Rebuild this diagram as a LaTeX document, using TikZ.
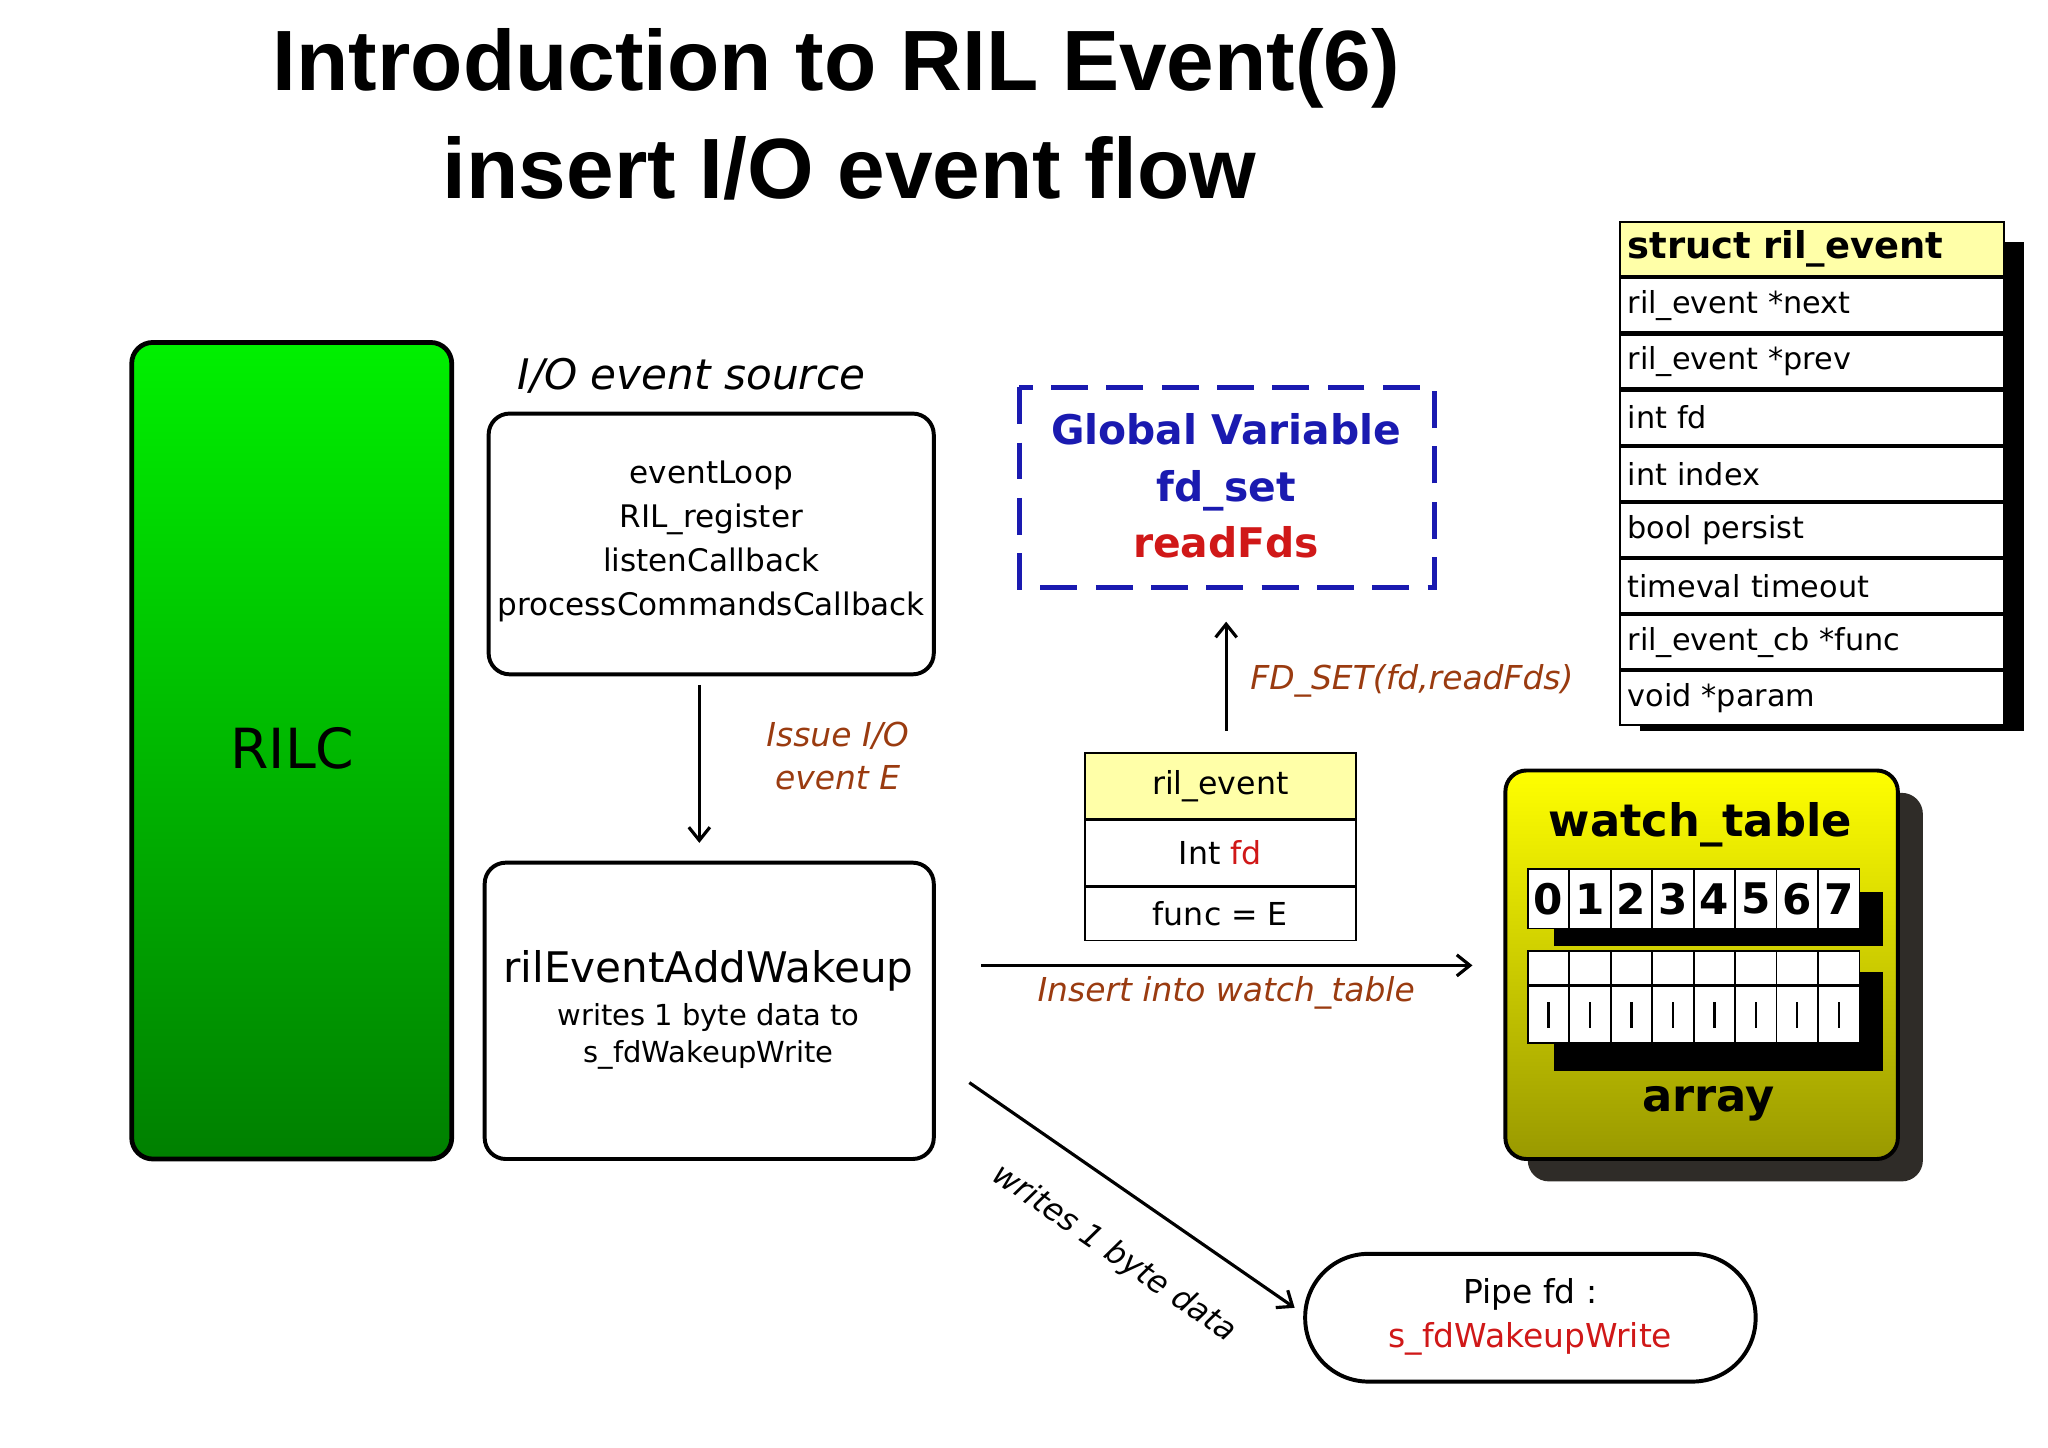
\documentclass[tikz,border=0pt]{standalone}
\usepackage{fontspec}
\setmainfont{DejaVu Sans}
\newfontfamily\titlef{Liberation Sans}
\usetikzlibrary{arrows.meta,shadows}
\definecolor{brn}{HTML}{9A3B10}
\definecolor{gblue}{HTML}{1A1AB0}
\definecolor{gred}{HTML}{D01818}
\definecolor{lyel}{HTML}{FFFFA8}
\tikzset{
  box/.style={draw=black,line width=1.5pt,rounded corners=8pt,fill=white},
  arr/.style={-{Straight Barb[length=5pt,width=8pt]},line width=1.2pt},
  lbl/.style={font=\fontsize{12.5}{15}\selectfont\itshape,text=brn},
  cell/.style={draw=black,line width=0.6pt,fill=white,minimum width=15.75pt,minimum height=22.5pt,inner sep=0pt,font=\fontsize{16}{16}\selectfont\bfseries},
  cellb/.style={draw=black,line width=0.6pt,fill=white,minimum width=15.75pt,minimum height=13pt,inner sep=0pt},
  srow/.style={draw=black,line width=0.8pt,fill=white,minimum height=20.5pt,inner sep=3pt,anchor=north west,text width=140pt,font=\fontsize{11.5}{13}\selectfont},
  rrow/.style={draw=black,line width=0.6pt,fill=white,minimum width=103pt,inner sep=0pt,anchor=north west,font=\fontsize{12}{14}\selectfont}
}
\begin{document}
\begin{tikzpicture}[x=0.5pt,y=-0.5pt]
\useasboundingbox (0,0) rectangle (1555,1099);
\fill[white] (0,0) rectangle (1555,1099);
% title
\node[font=\titlef\fontsize{32.5}{36}\selectfont\bfseries] (t1) at (635,52) {Introduction to RIL Event(6)};
\node[font=\titlef\fontsize{32.5}{36}\selectfont\bfseries] (t2) at (645,128) {insert I/O event flow};
% RILC
\draw[line width=1.8pt,rounded corners=8pt,top color=green!90!black!60!green,bottom color=green!50!black] (100,260) rectangle (343,880);
\node[font=\fontsize{21}{24}\selectfont] (rilc) at (222,568) {RILC};
% source
\node[font=\fontsize{16}{18}\selectfont\itshape] (srclbl) at (525,285) {I/O event source};
\draw[box] (371,314) rectangle (709,512);
\node[align=center,font=\fontsize{11.8}{16.7}\selectfont] (src) at (540,411) {eventLoop\\RIL\_register\\listenCallback\\processCommandsCallback};
\coordinate (a1s) at (531,520); \coordinate (a1e) at (531,640);
\draw[arr] (a1s) -- (a1e);
\node[lbl,align=center,font=\fontsize{12.5}{16.5}\selectfont\itshape] (issue) at (636,574) {Issue I/O\\event E};
% wakeup
\draw[box] (368,655) rectangle (709,880);
\node[font=\fontsize{16}{20}\selectfont] (wk) at (538,737) {rilEventAddWakeup};
\node[align=center,font=\fontsize{11}{14}\selectfont] (wks) at (538,787) {writes 1 byte data to\\s\_fdWakeupWrite};
% global
\draw[gblue,line width=1.8pt,dash pattern=on 14pt off 7pt] (774,294) rectangle (1089,446);
\node[align=center,font=\fontsize{15.5}{21.5}\selectfont\bfseries] (gv) at (931,369) {\textcolor{gblue}{Global Variable}\\\textcolor{gblue}{fd\_set}\\\textcolor{gred}{readFds}};
% ril_event
\node[rrow,fill=lyel,minimum height=25pt] (r1) at (823,571) {ril\_event};
\node[rrow,minimum height=25pt] (r2) at (r1.south west) {Int \textcolor{gred}{fd}};
\node[rrow,minimum height=20pt] (r3) at (r2.south west) {func = E};
\coordinate (fdtop) at (931,472);
\draw[arr] (931,555) -- (fdtop);
\node[lbl] (fdl) at (1072,517) {FD\_SET(fd,readFds)};
% insert arrow
\coordinate (ins) at (1118,733);
\draw[arr] (745,733) -- (ins);
\node[lbl] (insl) at (931,754) {Insert into watch\_table};
% watch table
\fill[black!80!olive!60!black,rounded corners=8pt] (1160,602) rectangle (1460,897);
\draw[line width=1.5pt,rounded corners=8pt,top color=yellow,bottom color=yellow!60!black] (1143,585) rectangle (1441,880);
\node[font=\fontsize{17}{20}\selectfont\bfseries] (wt) at (1291,626) {watch\_table};
\fill[black] (1180,677) rectangle (1430,718);
\fill[black] (1180,738) rectangle (1430,813);
\foreach \i in {0,...,7}{
  \node[cell] (c\i) at ({1175.75+31.5*\i},682.5) {\i};
  \node[cellb] (d\i) at ({1175.75+31.5*\i},735) {};
  \node[cellb,minimum height=21.5pt] (e\i) at ({1175.75+31.5*\i},770.5) {\rule{0.8pt}{10pt}};
}
\node[font=\fontsize{17}{20}\selectfont\bfseries] (arr) at (1297,838) {array};
% struct
\fill[black] (1245,184) rectangle (1537,555);
\node[srow,fill=lyel,font=\fontsize{14}{16}\selectfont\bfseries] (s0) at (1229,168) {struct ril\_event};
\node[srow] (s1) at (s0.south west) {ril\_event *next};
\node[srow] (s2) at (s1.south west) {ril\_event *prev};
\node[srow] (s3) at (s2.south west) {int fd};
\node[srow] (s4) at (s3.south west) {int index};
\node[srow] (s5) at (s4.south west) {bool persist};
\node[srow] (s6) at (s5.south west) {timeval timeout};
\node[srow] (s7) at (s6.south west) {ril\_event\_cb *func};
\node[srow] (s8) at (s7.south west) {void *param};
% pipe
\draw[box,rounded corners=24pt] (991,952) rectangle (1333,1049);
\node[align=center,font=\fontsize{12.5}{16.5}\selectfont] (pipe) at (1162,1000) {Pipe fd :\\\textcolor{gred}{s\_fdWakeupWrite}};
\coordinate (ps) at (736,822); \coordinate (pe) at (983,993);
\draw[arr] (ps) -- (pe);
\node[font=\fontsize{12}{15}\selectfont\itshape,rotate=-34.7] (wl) at (846,952) {writes 1 byte data};
\end{tikzpicture}
\end{document}
